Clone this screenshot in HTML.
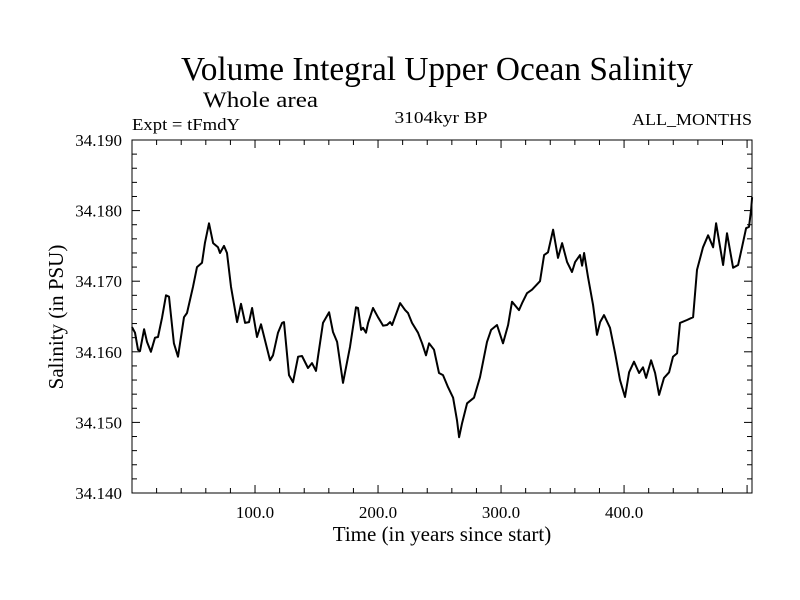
<!DOCTYPE html>
<html><head><meta charset="utf-8"><style>
body{margin:0;background:#fff}
svg{display:block;font-family:"Liberation Serif",serif}
</style></head><body>
<svg id="chart" width="800" height="600" viewBox="0 0 800 600">
<rect width="800" height="600" fill="#fff"/>
<text x="437" y="80" font-size="34" text-anchor="middle" textLength="512" lengthAdjust="spacingAndGlyphs">Volume Integral Upper Ocean Salinity</text>
<text x="203" y="107" font-size="22" textLength="115" lengthAdjust="spacingAndGlyphs">Whole area</text>
<text x="132" y="130" font-size="17" textLength="108" lengthAdjust="spacingAndGlyphs">Expt = tFmdY</text>
<text x="441" y="123" font-size="17" text-anchor="middle" textLength="93" lengthAdjust="spacingAndGlyphs">3104kyr BP</text>
<text x="752" y="125" font-size="17" text-anchor="end" textLength="120" lengthAdjust="spacingAndGlyphs">ALL_MONTHS</text>
<text x="442" y="541" font-size="21" text-anchor="middle">Time (in years since start)</text>
<text transform="translate(63,317) rotate(-90)" font-size="21" text-anchor="middle">Salinity (in PSU)</text>
<g id="axes"></g>
<path id="line" fill="none" stroke="#000" stroke-width="2" stroke-linejoin="round"/>
<rect x="132" y="140" width="620" height="353" fill="none" stroke="#000" stroke-width="1"/>
</svg>
<script>
const years=[0,2.4,4.9,6.5,9.8,12.2,15.4,18.7,21.1,24.4,27.6,30.1,34.1,37.4,42.3,44.7,49.6,52.8,56.9,59.3,62.6,65.9,69.9,71.5,74.8,77.2,80.5,85.4,88.6,91.9,95.1,97.6,101.6,104.9,112.2,114.6,118.7,122.0,123.6,127.6,130.9,135.0,138.2,143.1,146.3,149.6,151.2,155.3,160.2,163.4,166.7,171.5,177.2,182.1,183.7,186.2,187.8,190.2,191.9,195.9,200.0,204.1,207.3,209.8,211.4,217.9,222.0,224.4,227.6,232.5,235.8,239.0,241.5,245.5,249.6,252.8,256.9,261.0,264.2,265.9,268.3,272.4,278.0,282.9,288.6,291.9,296.7,301.6,305.7,308.9,314.6,317.1,321.1,325.2,331.7,335.0,338.2,342.3,346.3,349.6,353.7,357.7,360.2,364.2,365.9,367.5,370.7,374.8,378.0,380.5,383.7,388.6,392.7,396.7,400.8,404.1,408.1,412.2,415.4,417.9,422.0,425.2,428.5,432.5,436.6,439.8,443.1,445.5,451.2,456.1,459.3,464.2,468.3,472.4,474.8,480.5,483.7,488.6,492.7,495.9,499.2,501.6,503.3,504.1];
const salinity=[34.1635,34.1627,34.1603,34.1601,34.1632,34.1614,34.1600,34.1620,34.1621,34.1648,34.1680,34.1678,34.1612,34.1593,34.1649,34.1655,34.1692,34.1720,34.1726,34.1754,34.1782,34.1754,34.1748,34.1740,34.1750,34.1740,34.1692,34.1642,34.1668,34.1641,34.1642,34.1662,34.1621,34.1639,34.1588,34.1595,34.1627,34.1641,34.1642,34.1567,34.1557,34.1593,34.1594,34.1577,34.1584,34.1573,34.1593,34.1641,34.1656,34.1628,34.1614,34.1556,34.1607,34.1663,34.1662,34.1631,34.1634,34.1627,34.1641,34.1662,34.1649,34.1637,34.1638,34.1642,34.1638,34.1669,34.1659,34.1655,34.1641,34.1627,34.1612,34.1595,34.1612,34.1603,34.1570,34.1567,34.1550,34.1535,34.1503,34.1479,34.1499,34.1527,34.1535,34.1564,34.1614,34.1631,34.1638,34.1612,34.1638,34.1671,34.1659,34.1669,34.1683,34.1688,34.1700,34.1737,34.1741,34.1773,34.1733,34.1754,34.1727,34.1713,34.1727,34.1737,34.1722,34.1740,34.1706,34.1666,34.1624,34.1642,34.1652,34.1634,34.1598,34.1560,34.1536,34.1571,34.1586,34.1570,34.1578,34.1563,34.1588,34.1570,34.1539,34.1563,34.1571,34.1593,34.1598,34.1641,34.1645,34.1649,34.1716,34.1748,34.1765,34.1748,34.1782,34.1723,34.1768,34.1719,34.1723,34.1748,34.1775,34.1777,34.1801,34.1819];
const xTickValues=[100,200,300,400];
const xTickLabels=["100.0","200.0","300.0","400.0"];
const yTickValues=[34.14,34.15,34.16,34.17,34.18,34.19];
const yTickLabels=["34.140","34.150","34.160","34.170","34.180","34.190"];
const X0=132,X1=752,Y0=493,Y1=140,XMIN=0,XMAX=504,YMIN=34.14,YMAX=34.19;
function sx(v){return X0+(v-XMIN)/(XMAX-XMIN)*(X1-X0);}
function sy(v){return Y0-(v-YMIN)/(YMAX-YMIN)*(Y0-Y1);}
const NS="http://www.w3.org/2000/svg";
const axes=document.getElementById('axes');
function mk(tag,attrs){const e=document.createElementNS(NS,tag);for(const k in attrs)e.setAttribute(k,attrs[k]);axes.appendChild(e);return e;}
// x minor ticks every 20 years
for(let v=20;v<XMAX;v+=20){
  const major=v%100===0, len=major?8:5;
  const t1=mk('line',{x1:sx(v),x2:sx(v),y1:Y0,y2:Y0-len,stroke:'#000','stroke-width':1});
  
  
  const t2=mk('line',{x1:sx(v),x2:sx(v),y1:Y1,y2:Y1+len,stroke:'#000','stroke-width':1});
  
  
}
// y ticks every 0.002
for(let i=1;i<25;i++){
  const v=YMIN+i*0.002, major=i%5===0, len=major?8:5;
  const t1=mk('line',{x1:X0,x2:X0+len,y1:sy(v),y2:sy(v),stroke:'#000','stroke-width':1});
  
  
  const t2=mk('line',{x1:X1,x2:X1-len,y1:sy(v),y2:sy(v),stroke:'#000','stroke-width':1});
  
  
}
xTickValues.forEach((v,i)=>{
  const t=mk('text',{x:sx(v),y:518,'font-size':17,'text-anchor':'middle'});
  t.textContent=xTickLabels[i];
  
  
});
yTickValues.forEach((v,i)=>{
  const t=mk('text',{x:122,y:sy(v)+6,'font-size':17,'text-anchor':'end'});
  t.textContent=yTickLabels[i];
  
  
});
let d='';
years.forEach((y,i)=>{d+=(i?'L':'M')+sx(y).toFixed(1)+','+sy(salinity[i]).toFixed(1);});
document.getElementById('line').setAttribute('d',d);
</script>
</body></html>
